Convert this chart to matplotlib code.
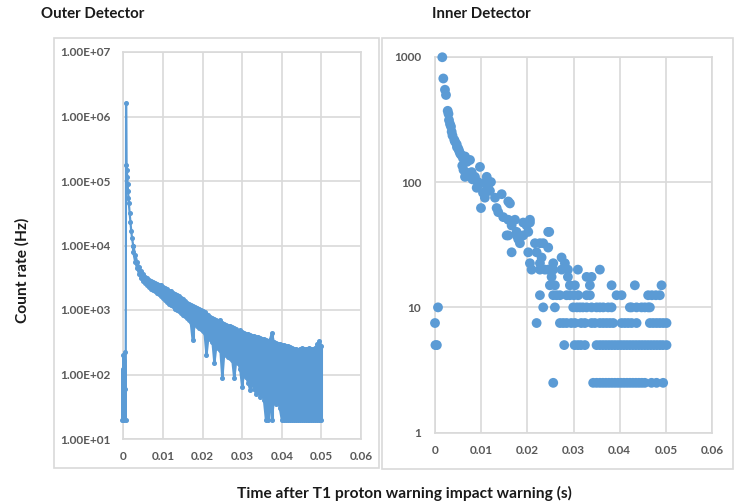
import matplotlib
matplotlib.use("Agg")
import matplotlib.pyplot as plt
from matplotlib.patches import Rectangle

plt.rcParams["font.family"] = ["Lato", "DejaVu Sans"]

BLUE = "#5b9bd5"
GRID = "#d9d9d9"
TICK_COLOR = "#595959"

# ---------------- Outer detector (count rate vs time) ----------------
# background before the proton warning
outer_pre_time = [-0.0003, -0.0002, -0.0001, 0.0, 0.0001, 0.0002, 0.0003, 0.0004, 0.0005, 0.0006]
outer_pre_rate = [20, 120, 20, 200, 40, 160, 20, 220, 60, 20]

# prompt spike and early decay
outer_peak_time = [0.0007, 0.0008, 0.0009, 0.0010, 0.0011, 0.0012, 0.0013, 0.0014,
                   0.0016, 0.0018, 0.0020, 0.0022]
outer_peak_rate = [1.6e6, 1.8e5, 1.5e5, 1.15e5, 9.0e4, 7.0e4, 5.5e4, 4.5e4,
                   3.2e4, 2.3e4, 1.7e4, 1.3e4]

# slow tail: upper and lower extent of the fluctuating rate in each time bin
outer_tail_time = [
    0.0025, 0.0030, 0.0035, 0.0040, 0.0045, 0.0050, 0.0055, 0.0060, 0.0065, 0.0070,
    0.0075, 0.0080, 0.0085, 0.0090, 0.0095, 0.0100, 0.0105, 0.0110, 0.0115, 0.0120,
    0.0125, 0.0130, 0.0135, 0.0140, 0.0145, 0.0150, 0.0155, 0.0160, 0.0165, 0.0170,
    0.0175, 0.0180, 0.0185, 0.0190, 0.0195, 0.0200, 0.0205, 0.0210, 0.0215, 0.0220,
    0.0225, 0.0230, 0.0235, 0.0240, 0.0245, 0.0250, 0.0255, 0.0260, 0.0265, 0.0270,
    0.0275, 0.0280, 0.0285, 0.0290, 0.0295, 0.0300, 0.0305, 0.0310, 0.0315, 0.0320,
    0.0325, 0.0330, 0.0335, 0.0340, 0.0345, 0.0350, 0.0355, 0.0360, 0.0365, 0.0370,
    0.0375, 0.0380, 0.0385, 0.0390, 0.0395, 0.0400, 0.0405, 0.0410, 0.0415, 0.0420,
    0.0425, 0.0430, 0.0435, 0.0440, 0.0445, 0.0450, 0.0455, 0.0460, 0.0465, 0.0470,
    0.0475, 0.0480, 0.0485, 0.0490, 0.0495, 0.0500,
]
outer_tail_high = [
    10000, 7200, 5600, 4700, 4000, 3600, 3300, 3100, 2950, 2800,
    2700, 2650, 2550, 2450, 2400, 2300, 2200, 2100, 2000, 1950,
    1850, 1750, 1700, 1650, 1550, 1500, 1400, 1300, 1250, 1200,
    1150, 1100, 1080, 1050, 1000, 980, 930, 880, 830, 790,
    750, 720, 700, 680, 700, 640, 600, 580, 560, 570,
    540, 520, 500, 480, 490, 460, 440, 430, 420, 410,
    400, 390, 385, 380, 370, 360, 350, 340, 330, 345,
    440, 320, 310, 300, 300, 290, 285, 280, 275, 270,
    260, 250, 250, 240, 250, 255, 250, 245, 250, 260,
    250, 245, 260, 300, 330, 280,
]
outer_tail_low = [
    8000, 5600, 4400, 3600, 3100, 2800, 2600, 2400, 2250, 2150,
    2050, 1950, 1850, 1750, 1650, 1550, 1450, 1350, 1250, 1200,
    1150, 1050, 1000, 950, 900, 850, 800, 760, 700, 660,
    340, 600, 560, 530, 500, 470, 440, 200, 380, 350,
    320, 150, 280, 260, 240, 87, 220, 200, 190, 180,
    170, 87, 160, 150, 120, 64, 110, 90, 75, 58,
    70, 60, 50, 60, 45, 50, 40, 20, 20, 40,
    20, 40, 35, 40, 30, 20, 20, 20, 20, 20,
    20, 20, 20, 20, 20, 20, 20, 20, 20, 20,
    20, 20, 20, 20, 20, 20,
]

# ---------------- Inner detector (scatter) ----------------
inner_early_time = [
    0.0000, 0.0001, 0.0004, 0.00065,
    0.00158, 0.0018, 0.00216, 0.00238, 0.00275, 0.00292, 0.00303, 0.00325, 0.00346,
    0.00361, 0.00379, 0.00418, 0.00433, 0.0047, 0.00476, 0.00504, 0.0052, 0.00541,
    0.00563, 0.00591, 0.00606, 0.00617, 0.0065, 0.0065, 0.00693, 0.00714, 0.00758,
    0.00794, 0.00812, 0.00866, 0.00903, 0.00931, 0.00942, 0.00974, 0.00996, 0.0104,
    0.01061, 0.0108, 0.0112, 0.0115, 0.0119, 0.01212, 0.013, 0.01335, 0.0137,
    0.01444, 0.01478, 0.01552, 0.01587, 0.01587, 0.01587, 0.01623, 0.0166, 0.0166,
    0.01732, 0.01768, 0.01768, 0.01803, 0.0184, 0.01911, 0.01911, 0.01985, 0.0202,
    0.0202, 0.02056, 0.02056, 0.02165, 0.02201, 0.02273, 0.02309, 0.02344, 0.02452,
    0.02452, 0.02474, 0.02742, 0.02056, 0.02273, 0.02561, 0.02814,
]
inner_early_rate = [
    7.5, 5, 5, 10,
    990, 670, 545, 495, 370, 350, 312, 290, 277,
    252, 235, 217, 210, 200, 190, 185, 178, 170,
    165, 135, 155, 125, 160, 110, 145, 118, 150,
    120, 105, 110, 90, 100, 95, 132, 62, 82,
    98, 75, 110, 90, 85, 100, 75, 62, 57.5,
    80, 52.5, 37.5, 70, 50, 37.5, 67.5, 45, 27.5,
    50, 40, 37.5, 35, 32.5, 47.5, 37.5, 45, 40,
    27.5, 47.5, 50, 32.5, 27.5, 32.5, 25, 32.5, 40,
    30, 40, 25, 22.5, 22.5, 22.5, 22.5,
]

# later bins fall on discrete count levels
inner_level_rate = [20, 17.5, 15, 12.5, 10, 7.5, 5, 2.5]
inner_level_time = [
    [0.02093, 0.02273, 0.02381, 0.0245, 0.02561, 0.02742, 0.02879, 0.03095, 0.03571],
    [0.02526, 0.02879, 0.03284, 0.03392],
    [0.02489, 0.02597, 0.02922, 0.0303, 0.03355, 0.03825, 0.04329, 0.04907],
    [0.02273, 0.02561, 0.02634, 0.02706, 0.02851, 0.02922, 0.03009, 0.03102, 0.03284,
     0.03355, 0.03933, 0.04041, 0.04617, 0.04697, 0.04784, 0.0487],
    [0.02344, 0.02597, 0.02994, 0.03074, 0.03139, 0.03203, 0.03284, 0.03392, 0.035,
     0.03571, 0.03643, 0.03751, 0.03825, 0.04221, 0.04258, 0.04366, 0.04474, 0.04545,
     0.04617, 0.04654],
    [0.02201, 0.02706, 0.02777, 0.02851, 0.0295, 0.0303, 0.03167, 0.03247, 0.03392,
     0.03463, 0.03571, 0.03643, 0.03716, 0.03788, 0.03859, 0.04041, 0.04113, 0.04184,
     0.04258, 0.04366, 0.04654, 0.04725, 0.04799, 0.0487, 0.04942, 0.05015],
    [0.02799, 0.03024, 0.03095, 0.0316, 0.03247, 0.035, 0.03571, 0.03636, 0.03701,
     0.03766, 0.03831, 0.03896, 0.03961, 0.04026, 0.04091, 0.04156, 0.04221, 0.04286,
     0.04351, 0.04416, 0.0448, 0.04545, 0.0461, 0.04675, 0.0474, 0.04805, 0.0487,
     0.04935, 0.05015],
    [0.02561, 0.03426, 0.035, 0.03571, 0.03636, 0.03701, 0.03766, 0.03831, 0.03896,
     0.03961, 0.04026, 0.04091, 0.04156, 0.04221, 0.04286, 0.04351, 0.04416, 0.0448,
     0.04545, 0.0469, 0.04799, 0.04942],
]

x_ticks = [0, 0.01, 0.02, 0.03, 0.04, 0.05, 0.06]
x_tick_labels = ["0", "0.01", "0.02", "0.03", "0.04", "0.05", "0.06"]
outer_y_ticks = [1e1, 1e2, 1e3, 1e4, 1e5, 1e6, 1e7]
outer_y_labels = ["1.00E+01", "1.00E+02", "1.00E+03", "1.00E+04",
                  "1.00E+05", "1.00E+06", "1.00E+07"]
inner_y_ticks = [1, 10, 100, 1000]
inner_y_labels = ["1", "10", "100", "1000"]

W, H = 735, 503
fig = plt.figure(figsize=(W / 100, H / 100), dpi=100)


def fx(px):
    return px / W


def fy(py):
    return 1 - py / H


# chart-area frames
fig.add_artist(Rectangle((fx(54), fy(468)), fx(379) - fx(54), fy(38) - fy(468),
                         transform=fig.transFigure, fill=False, edgecolor=GRID, lw=1.2))
fig.add_artist(Rectangle((fx(382), fy(469)), fx(733) - fx(382), fy(38) - fy(469),
                         transform=fig.transFigure, fill=False, edgecolor=GRID, lw=1.2))

ax1 = fig.add_axes([fx(123.3), fy(439), fx(361) - fx(123.3), fy(52) - fy(439)])
ax2 = fig.add_axes([fx(435), fy(432.7), fx(712) - fx(435), fy(56.7) - fy(432.7)])


def style(ax, yticks, ylabels, xpad, ypad):
    ax.set_yscale("log")
    ax.set_xlim(0, 0.06)
    ax.set_xticks(x_ticks)
    ax.set_xticklabels(x_tick_labels)
    ax.set_yticks(yticks)
    ax.set_yticklabels(ylabels)
    ax.yaxis.set_minor_locator(matplotlib.ticker.NullLocator())
    ax.grid(True, color=GRID, lw=1.2)
    ax.set_axisbelow(True)
    for s in ax.spines.values():
        s.set_color(GRID)
        s.set_linewidth(1.2)
    ax.tick_params(length=0, labelsize=8.5, labelcolor=TICK_COLOR)
    ax.tick_params(axis="x", pad=xpad)
    ax.tick_params(axis="y", pad=ypad)
    for t in ax.get_xticklabels() + ax.get_yticklabels():
        t.set_fontweight("bold")


style(ax1, outer_y_ticks, outer_y_labels, 9, 9)
ax1.set_ylim(1e1, 1e7)
style(ax2, inner_y_ticks, inner_y_labels, 9, 10)
ax2.set_ylim(1, 1000)

# outer detector: connected line with small markers
t_line = outer_pre_time + outer_peak_time + outer_tail_time[:1]
r_line = outer_pre_rate + outer_peak_rate + outer_tail_high[:1]
ax1.plot(t_line, r_line, color=BLUE, lw=1.6, marker="o", ms=2.6, clip_on=False, zorder=3)
ax1.vlines(outer_tail_time, outer_tail_low, outer_tail_high, color=BLUE, lw=2.2, zorder=3)
ax1.plot(outer_tail_time, outer_tail_high, color=BLUE, lw=1.6, marker="o", ms=2.6, zorder=3)
ax1.plot(outer_tail_time, outer_tail_low, color=BLUE, lw=1.6, marker="o", ms=2.6, zorder=3)

# inner detector: scatter markers
ax2.scatter(inner_early_time, inner_early_rate, s=50, color=BLUE, edgecolors="none",
            clip_on=False, zorder=3)
for rate, times in zip(inner_level_rate, inner_level_time):
    ax2.scatter(times, [rate] * len(times), s=50, color=BLUE, edgecolors="none",
                clip_on=False, zorder=3)

# titles and axis captions
TEXT = dict(fontweight="bold", color="#1a1a1a")
fig.text(fx(40.7), fy(14.3), "Outer Detector", ha="left", va="center", fontsize=10.8, **TEXT)
fig.text(fx(432.3), fy(14.3), "Inner Detector", ha="left", va="center", fontsize=10.8, **TEXT)
fig.text(fx(22), fy(270), "Count rate (Hz)", ha="center", va="center", rotation=90,
         fontsize=11.2, **TEXT)
fig.text(fx(404), fy(493), "Time after T1 proton warning impact warning (s)",
         ha="center", va="center", fontsize=11.2, **TEXT)

fig.savefig("out.png", dpi=100)
